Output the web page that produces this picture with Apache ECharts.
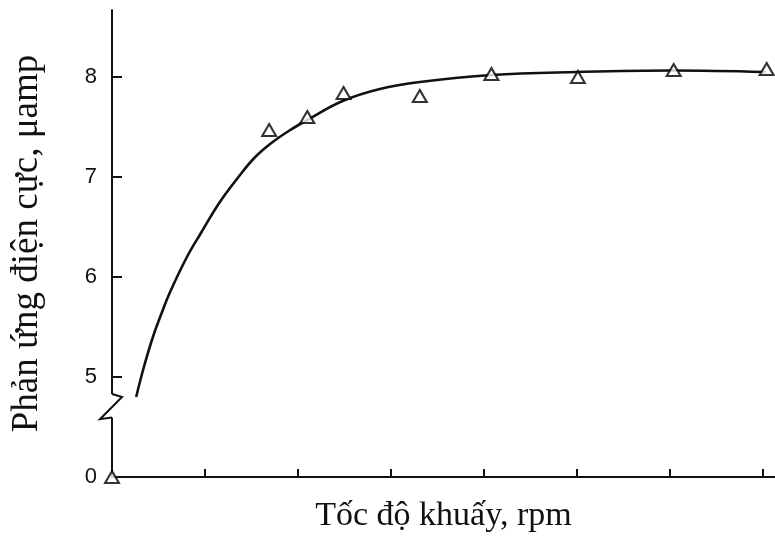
<!DOCTYPE html>
<html>
<head>
<meta charset="utf-8">
<script src="https://cdn.jsdelivr.net/npm/echarts@6/dist/echarts.min.js"></script>
<style>
html,body{margin:0;padding:0;background:#fff;}
#chart{width:775px;height:542px;}
</style>
</head>
<body>
<div id="chart"></div>
<script>
// Measured points (triangles); x in tick units of stirring speed, y in µamp
const pointX = [0, 1.69, 2.10, 2.49, 3.31, 4.08, 5.01, 6.04, 7.04];
const pointY = [0, 7.47, 7.60, 7.84, 7.81, 8.03, 8.00, 8.07, 8.08];
// Fitted curve
const curveX = [0.26, 0.34, 0.44, 0.53, 0.62, 0.80, 0.95, 1.16, 1.36, 1.53, 1.70, 1.90, 2.10, 2.48, 2.88, 3.31, 4.08, 5.00, 6.03, 7.03];
const curveY = [4.80, 5.09, 5.40, 5.63, 5.84, 6.19, 6.43, 6.75, 7.00, 7.19, 7.33, 7.46, 7.57, 7.76, 7.88, 7.95, 8.02, 8.05, 8.065, 8.05];
// Axis ticks
const xTickValues = [1, 2, 3, 4, 5, 6, 7];
const yTickValues = [5, 6, 7, 8];
const yLabelValues = [4, 5, 6, 7, 8];
const yLabelTexts = {4: '0', 5: '5', 6: '6', 7: '7', 8: '8'};
const xTitle = 'Tốc độ khuấy, rpm';
const yTitle = 'Phản ứng điện cực, μamp';

// broken axis: value 0 is drawn at axis position 4 (below the break)
function toAxis(v) { return v < 4 ? 4 : v; }

const chart = echarts.init(document.getElementById('chart'), null, {renderer: 'canvas'});
const axisColor = '#111';
const option = {
  backgroundColor: '#fff',
  animation: false,
  grid: {left: 112, right: 0, top: 10, bottom: 65, containLabel: false},
  xAxis: {
    type: 'value', min: 0, max: 7.13, interval: 1,
    axisLine: {show: true, lineStyle: {color: axisColor, width: 2}},
    axisTick: {show: true, inside: true, length: 8, customValues: xTickValues, lineStyle: {color: axisColor, width: 2}},
    axisLabel: {show: false},
    splitLine: {show: false},
    name: xTitle, nameLocation: 'middle', nameGap: 22,
    nameTextStyle: {fontFamily: 'Liberation Serif', fontSize: 34, color: '#111'}
  },
  yAxis: {
    type: 'value', min: 4, max: 8.67, interval: 1,
    axisLine: {show: true, lineStyle: {color: axisColor, width: 2}},
    axisTick: {show: true, inside: true, length: 10, customValues: yTickValues, lineStyle: {color: axisColor, width: 2}},
    axisLabel: {show: true, customValues: yLabelValues, margin: 15,
      fontFamily: 'Liberation Sans', fontSize: 22, color: '#111',
      formatter: v => yLabelTexts[v] !== undefined ? yLabelTexts[v] : ''},
    splitLine: {show: false},
    name: yTitle, nameLocation: 'middle', nameGap: 66,
    nameTextStyle: {fontFamily: 'Liberation Serif', fontSize: 37, color: '#111'}
  },
  series: [
    {
      type: 'line', smooth: 0.4, showSymbol: false, symbol: 'none',
      data: curveX.map((x, i) => [x, curveY[i]]),
      lineStyle: {color: '#111', width: 2.6},
      z: 2
    },
    {
      type: 'scatter', clip: false,
      data: pointX.map((x, i) => [x, toAxis(pointY[i])]),
      symbol: 'triangle', symbolSize: [14, 12],
      itemStyle: {color: '#fff', borderColor: '#000', borderWidth: 2},
      z: 3
    }
  ]
};
chart.setOption(option);

// y-axis break zigzag (decoration) placed through the axis scale
const ax = chart.convertToPixel({xAxisIndex: 0}, 0);
const py = v => chart.convertToPixel({yAxisIndex: 0}, v);
const yTop = py(4.83), yA = py(4.80), yB = py(4.578), yBot = py(4.594);
chart.setOption({
  graphic: [
    {type: 'rect', z: 100, shape: {x: ax - 3, y: yTop, width: 6, height: yBot - yTop}, style: {fill: '#fff'}},
    {type: 'polyline', z: 101, shape: {points: [[ax, yTop], [ax + 10, yA], [ax - 12, yB], [ax, yBot]]},
      style: {stroke: axisColor, lineWidth: 2, fill: null}}
  ]
});
</script>
</body>
</html>
